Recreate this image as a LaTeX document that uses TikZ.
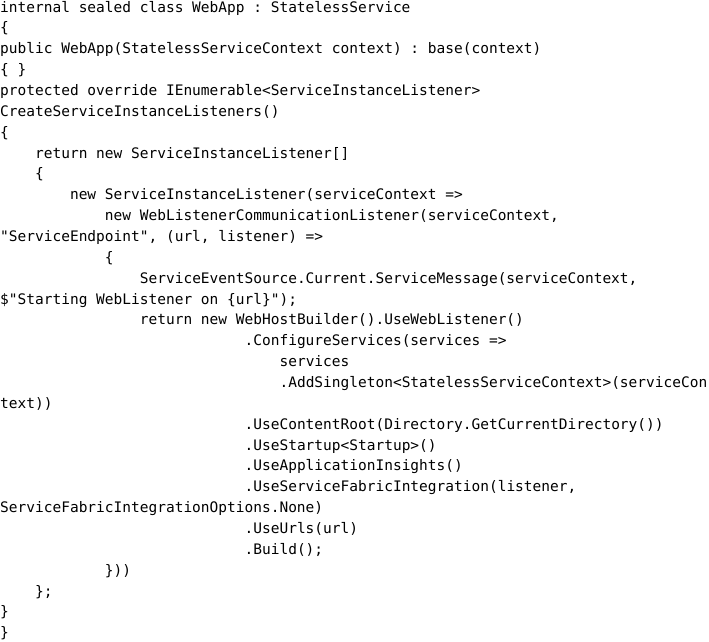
\documentclass[tikz,border=0pt]{standalone}
\usepackage{fontspec}
\setmonofont{DejaVu Sans Mono}
\begin{document}
\begin{tikzpicture}[code/.style = {anchor = base west, inner sep = 0pt, font = \ttfamily\fontsize{14.5}{17}\selectfont}]
	%Khung hình
	\useasboundingbox[fill = white] (0,0) rectangle (709pt,-641pt);
	\def\cw{8.73pt}     \def\lh{20.86pt}
	%Các dòng mã: số dòng / số ký tự thụt lề / nội dung
	\foreach \n/\ind/\txt in {1/0/{internal sealed class WebApp : StatelessService},
		2/0/{\{},
		3/0/{public WebApp(StatelessServiceContext context) : base(context)},
		4/0/{\{ \}},
		5/0/{protected override IEnumerable<ServiceInstanceListener>},
		6/0/{CreateServiceInstanceListeners()},
		7/0/{\{},
		8/4/{return new ServiceInstanceListener[]},
		9/4/{\{},
		10/8/{new ServiceInstanceListener(serviceContext =>},
		11/12/{new WebListenerCommunicationListener(serviceContext,},
		12/0/{"ServiceEndpoint", (url, listener) =>},
		13/12/{\{},
		14/16/{ServiceEventSource.Current.ServiceMessage(serviceContext,},
		15/0/{\$"Starting WebListener on \{url\}");},
		16/16/{return new WebHostBuilder().UseWebListener()},
		17/28/{.ConfigureServices(services =>},
		18/32/{services},
		19/32/{.AddSingleton<StatelessServiceContext>(serviceCon},
		20/0/{text))},
		21/28/{.UseContentRoot(Directory.GetCurrentDirectory())},
		22/28/{.UseStartup<Startup>()},
		23/28/{.UseApplicationInsights()},
		24/28/{.UseServiceFabricIntegration(listener,},
		25/0/{ServiceFabricIntegrationOptions.None)},
		26/28/{.UseUrls(url)},
		27/28/{.Build();},
		28/12/{\}))},
		29/4/{\};},
		30/0/{\}},
		31/0/{\}}}
	\node[code] (l\n) at ({\ind*\cw},{-12pt-(\n-1)*\lh}) {\txt};
\end{tikzpicture}
\end{document}
